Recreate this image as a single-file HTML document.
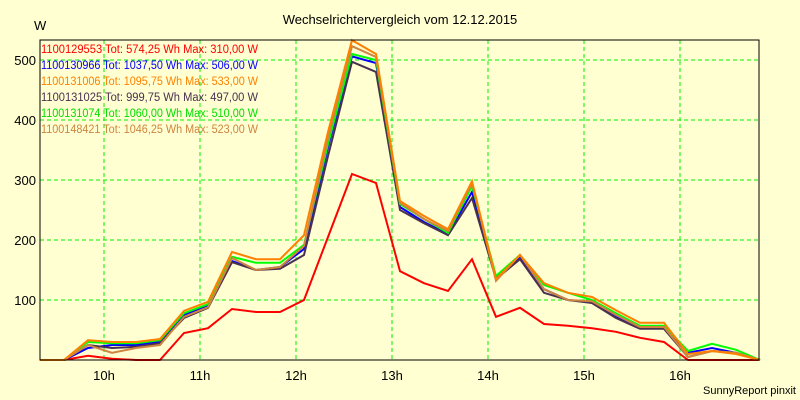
<!DOCTYPE html>
<html><head><meta charset="utf-8"><style>
body{margin:0;background:#ffffd2;}
svg{display:block;font-family:"Liberation Sans",sans-serif;}
</style></head><body>
<svg id="chart" width="800" height="400" xmlns="http://www.w3.org/2000/svg">
<rect width="800" height="400" fill="#ffffd2"/>
<text x="400" y="24" text-anchor="middle" font-size="13" fill="#000">Wechselrichtervergleich vom 12.12.2015</text>
<text x="34" y="30" font-size="13" fill="#000">W</text>
<g id="grid"></g>
<g id="series"></g>
<g id="legend"></g>
<rect x="40" y="40" width="719" height="320" fill="none" stroke="#000" stroke-width="1"/>
<text x="796" y="394" text-anchor="end" font-size="11" fill="#000">SunnyReport pinxit</text>
</svg>
<script>
const hourTicks=[10,11,12,13,14,15,16];
const hourLabels=["10h","11h","12h","13h","14h","15h","16h"];
const yTicks=[100,200,300,400,500];
const startHour=9+20/60, stepMin=15;
const red=[0,0,7,2,0,0,45,53,85,80,80,100,205,310,295,148,128,115,168,72,87,60,57,53,47,37,30,0,0,0,0];
const blue=[0,0,20,25,25,30,75,90,165,150,155,185,355,506,495,255,230,210,280,138,170,118,100,97,73,55,55,12,20,12,0];
const orange=[0,0,33,30,30,35,82,97,180,168,168,208,380,533,510,265,240,218,298,135,175,128,112,105,83,62,62,10,15,10,0];
const dark=[0,0,25,20,22,28,70,87,163,150,152,175,340,497,480,250,228,208,270,135,168,112,100,95,70,52,52,5,15,12,0];
const green=[0,0,30,28,28,33,78,93,172,162,162,192,360,510,500,260,235,212,290,140,175,125,112,100,78,57,57,15,27,17,0];
const brown=[0,0,25,12,20,25,72,88,170,150,155,190,370,523,505,262,235,215,295,132,175,118,100,98,75,55,55,5,15,12,0];
const legendIds=["1100129553","1100130966","1100131006","1100131025","1100131074","1100148421"];
const legendText=["Tot: 574,25 Wh Max: 310,00 W","Tot: 1037,50 Wh Max: 506,00 W","Tot: 1095,75 Wh Max: 533,00 W","Tot: 999,75 Wh Max: 497,00 W","Tot: 1060,00 Wh Max: 510,00 W","Tot: 1046,25 Wh Max: 523,00 W"];
const NS="http://www.w3.org/2000/svg";
const X0=40,X1=759,Y0=360;
const xH=h=>104+(h-10)*96;
const xIdx=i=>xH(startHour+i*stepMin/60);
const yV=v=>Y0-v*0.6;
function mk(t,a,p){const e=document.createElementNS(NS,t);for(const k in a)e.setAttribute(k,a[k]);p.appendChild(e);return e;}
const grid=document.getElementById('grid');
yTicks.forEach(v=>{
  const l=mk('line',{x1:X0,x2:X1,y1:yV(v),y2:yV(v),stroke:'#00f000','stroke-dasharray':'4,3'},grid);
  
  
  const t=mk('text',{x:36,y:yV(v)+5,'text-anchor':'end','font-size':13,fill:'#000'},grid);
  t.textContent=v;
  
  
});
hourTicks.forEach((h,i)=>{
  const l=mk('line',{x1:xH(h),x2:xH(h),y1:40,y2:Y0,stroke:'#00f000','stroke-dasharray':'4,3'},grid);
  
  
  const t=mk('text',{x:xH(h),y:380,'text-anchor':'middle','font-size':13,fill:'#000'},grid);
  t.textContent=hourLabels[i];
  
  
});
const seriesList=[[red,'#ff0000'],[blue,'#0000ff'],[dark,'#4a3050'],[green,'#00ff00'],[brown,'#cd853f'],[orange,'#ff8000']];
const sg=document.getElementById('series');
seriesList.forEach(([d,c],si)=>{
  const p=mk('polyline',{points:d.map((v,i)=>xIdx(i)+','+yV(v)).join(' '),fill:'none',stroke:c,'stroke-width':2,'stroke-linejoin':'miter'},sg);
  
  
});
const legColors=['#ff0000','#0000ff','#ff8000','#4a3050','#00dd00','#cd853f'];
const lg=document.getElementById('legend');
legendIds.forEach((id,i)=>{
  const t=mk('text',{x:41,y:53+i*16,'font-size':11.5,fill:legColors[i],textLength:217,lengthAdjust:'spacingAndGlyphs'},lg);
  t.textContent=id+' '+legendText[i];
  
  
});
</script>
</body></html>
